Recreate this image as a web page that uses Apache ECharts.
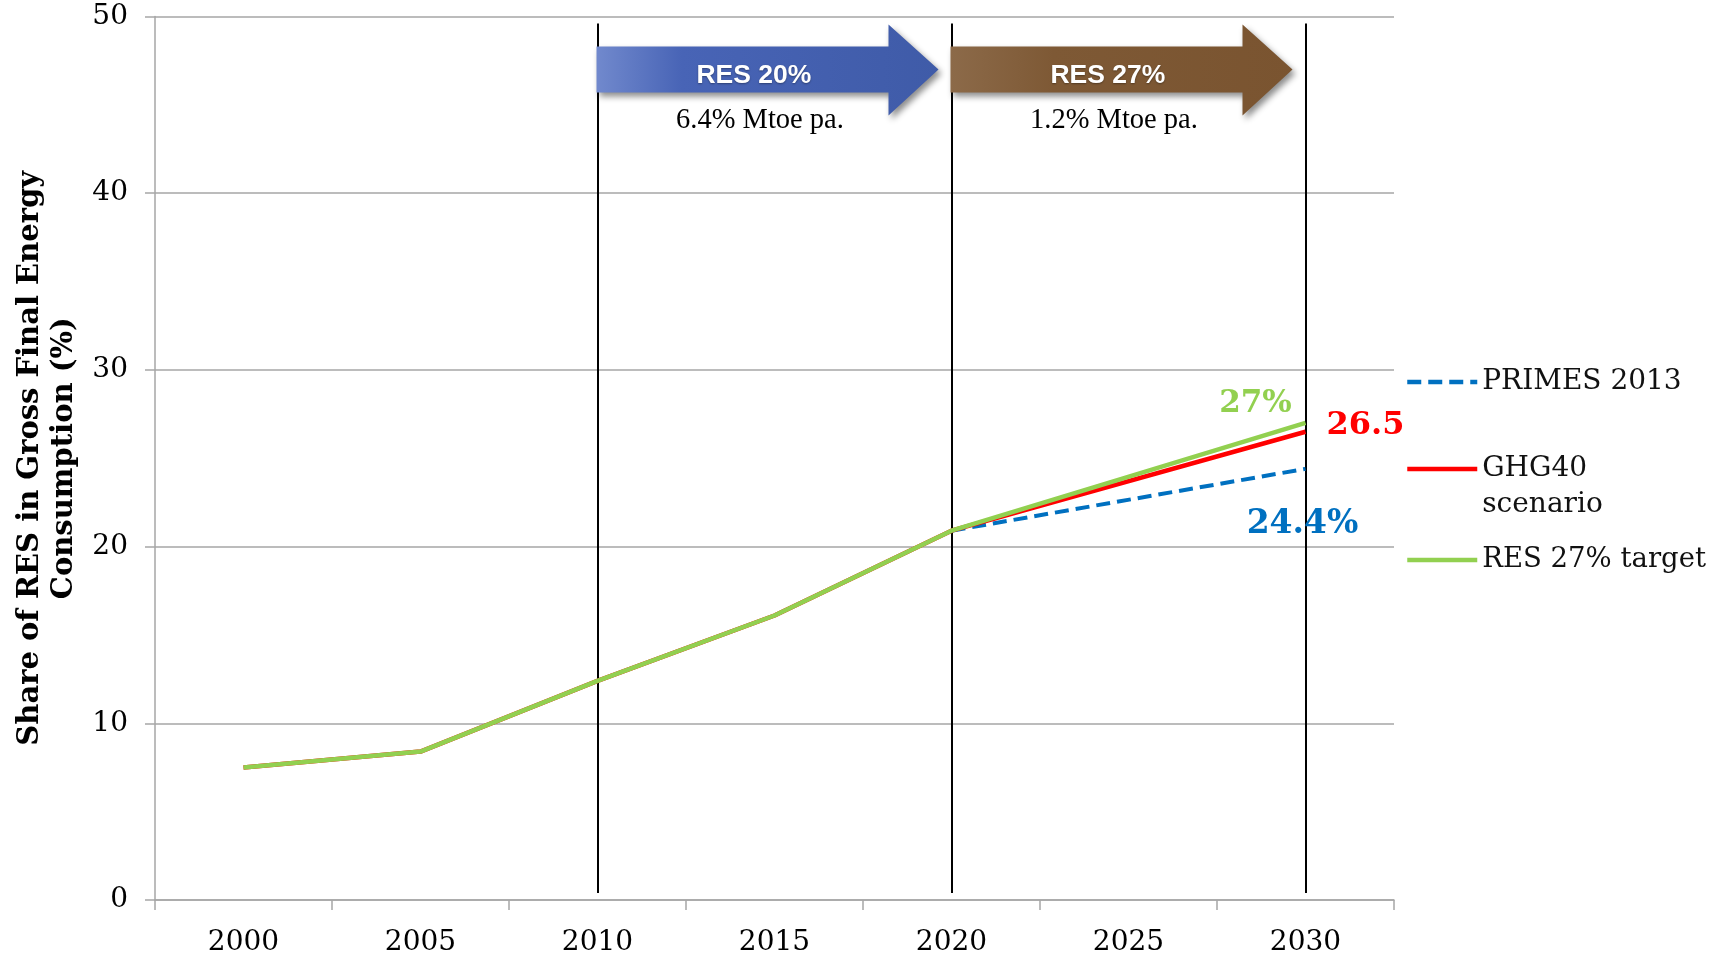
<!DOCTYPE html>
<html>
<head>
<meta charset="utf-8">
<script src="https://cdn.jsdelivr.net/npm/echarts@6/dist/echarts.min.js"></script>
<style>
html,body{margin:0;padding:0;background:#fff;}
#main{width:1724px;height:957px;}
</style>
</head>
<body>
<div id="main"></div>
<script>
// ---- data ----
const categories = ['2000', '2005', '2010', '2015', '2020', '2025', '2030'];
const primes2013 = [null, null, null, null, 20.9, null, 24.4];
const ghg40 = [7.5, 8.4, 12.4, 16.1, 20.9, null, 26.5];
const res27 = [7.5, 8.4, 12.4, 16.1, 20.9, null, 27.0];
const seriesNames = ['PRIMES 2013', 'GHG40 scenario', 'RES 27% target'];
const endLabels = ['24.4%', '26.5', '27%'];
const periodYears = ['2010', '2020', '2030'];
const arrowTitles = ['RES 20%', 'RES 27%'];
const arrowNotes = ['6.4% Mtoe pa.', '1.2% Mtoe pa.'];
const yTicks = { min: 0, max: 50, interval: 10 };

// ---- style ----
const SERIF = '"DejaVu Serif", Georgia, serif';
const TIMES = '"Liberation Serif", "Times New Roman", serif';
const SANS = '"Liberation Sans", Arial, sans-serif';
const gray = '#a6a6a6';

const chart = echarts.init(document.getElementById('main'), null, { renderer: 'canvas' });

const vLines = periodYears.map(y => [
  { coord: [y, 49.6] },
  { coord: [y, 0.4] }
]);

const legendBase = {
  orient: 'vertical', padding: 0, itemWidth: 70, itemHeight: 14, itemGap: 0,
  selectedMode: false,
  itemStyle: { opacity: 0 },
  lineStyle: { width: 4.5 },
  textStyle: { fontFamily: SERIF, fontSize: 28, color: '#111', lineHeight: 36 }
};

const option = {
  animation: false,
  backgroundColor: '#ffffff',
  grid: { left: 155, right: 330, top: 16.5, bottom: 57 },
  xAxis: {
    type: 'category',
    data: categories,
    boundaryGap: true,
    axisLine: { show: true, lineStyle: { color: gray, width: 1.5 } },
    axisTick: { show: true, interval: 0, length: 10, lineStyle: { color: gray, width: 1.5 } },
    axisLabel: { color: '#000', fontFamily: SERIF, fontSize: 28, margin: 29 },
    splitLine: { show: false }
  },
  yAxis: {
    type: 'value',
    min: yTicks.min, max: yTicks.max, interval: yTicks.interval,
    name: 'Share of RES in Gross Final Energy\nConsumption (%)',
    nameLocation: 'middle',
    nameRotate: 90,
    nameGap: 74,
    nameTextStyle: { fontFamily: SERIF, fontWeight: 'bold', fontSize: 29, lineHeight: 34, color: '#000' },
    axisLine: { show: true, lineStyle: { color: gray, width: 1.5 } },
    axisTick: { show: true, length: 10, lineStyle: { color: gray, width: 1.5 } },
    axisLabel: { color: '#000', fontFamily: SERIF, fontSize: 28, margin: 27 },
    splitLine: { show: true, lineStyle: { color: gray, width: 1.5 } }
  },
  legend: [
    Object.assign({}, legendBase, { data: [seriesNames[0]], left: 1405, top: 364 }),
    Object.assign({}, legendBase, {
      data: [seriesNames[1]], left: 1405, top: 455,
      formatter: () => '{a|GHG40}\n{a|scenario}',
      textStyle: {
        fontFamily: SERIF, fontSize: 28, color: '#111', padding: [36, 0, 0, 0],
        rich: { a: { fontFamily: SERIF, fontSize: 28, color: '#111', lineHeight: 36 } }
      }
    }),
    Object.assign({}, legendBase, { data: [seriesNames[2]], left: 1405, top: 542,
      textStyle: { fontFamily: SERIF, fontSize: 27.5, color: '#111', lineHeight: 36 } })
  ],
  series: [
    {
      name: seriesNames[0], type: 'line', data: primes2013, connectNulls: true,
      symbol: 'none', color: '#0070C0', z: 2,
      lineStyle: { color: '#0070C0', width: 4, type: [14, 7] },
      endLabel: { show: true, formatter: () => endLabels[0], color: '#0070C0',
        fontFamily: SERIF, fontWeight: 'bold', fontSize: 33, distance: 0,
        align: 'center', verticalAlign: 'middle', offset: [-3, 56] }
    },
    {
      name: seriesNames[1], type: 'line', data: ghg40, connectNulls: true,
      symbol: 'none', color: '#FF0000', z: 3,
      lineStyle: { color: '#FF0000', width: 4.5 },
      endLabel: { show: true, formatter: () => endLabels[1], color: '#FF0000',
        fontFamily: SERIF, fontWeight: 'bold', fontSize: 32, distance: 0,
        align: 'center', verticalAlign: 'middle', offset: [60, -6] }
    },
    {
      name: seriesNames[2], type: 'line', data: res27, connectNulls: true,
      symbol: 'none', color: '#92D050', z: 4,
      lineStyle: { color: '#92D050', width: 4.5 },
      endLabel: { show: true, formatter: () => endLabels[2], color: '#92D050',
        fontFamily: SERIF, fontWeight: 'bold', fontSize: 31, distance: 0,
        align: 'center', verticalAlign: 'middle', offset: [-50, -19] },
      markLine: {
        silent: true, symbol: ['none', 'none'], label: { show: false },
        lineStyle: { color: '#000', width: 2, type: 'solid' },
        z: 1,
        data: vLines
      }
    }
  ]
};
chart.setOption(option);

// ---- period arrows (positioned from axis coordinates) ----
const arrowColors = [
  [[0, '#7189cd'], [0.25, '#4864b6'], [1, '#3f5ba8']],
  [[0, '#8c6a49'], [0.3, '#7e5935'], [1, '#7a5430']]
];
const topY = chart.convertToPixel({ xAxisIndex: 0, yAxisIndex: 0 }, [0, yTicks.max])[1];
const graphics = [];
for (let i = 0; i < arrowTitles.length; i++) {
  const x0 = chart.convertToPixel({ xAxisIndex: 0, yAxisIndex: 0 }, [periodYears[i], 0])[0] - 1;
  const xn = chart.convertToPixel({ xAxisIndex: 0, yAxisIndex: 0 }, [periodYears[i + 1], 0])[0];
  const tip = xn - 13;
  const hb = tip - 50;
  const bt = topY + 30, bb = topY + 76, ht = topY + 8, hbt = topY + 99, tm = topY + 53;
  graphics.push({
    type: 'polygon',
    shape: { points: [[x0, bt], [hb, bt], [hb, ht], [tip, tm], [hb, hbt], [hb, bb], [x0, bb]] },
    style: {
      fill: new echarts.graphic.LinearGradient(0, 0, 1, 0,
        arrowColors[i].map(s => ({ offset: s[0], color: s[1] }))),
      shadowBlur: 6, shadowOffsetX: 3, shadowOffsetY: 4, shadowColor: 'rgba(0,0,0,0.45)'
    },
    z: 10
  });
  graphics.push({
    type: 'text',
    x: x0 + (tip - x0) * 0.46, y: topY + 59,
    style: { text: arrowTitles[i], fill: '#fff', font: 'bold 26.5px ' + SANS,
      align: 'center', verticalAlign: 'middle',
      textShadowBlur: 2, textShadowColor: 'rgba(0,0,0,0.35)', textShadowOffsetY: 1 },
    z: 11
  });
  graphics.push({
    type: 'text',
    x: x0 + (tip - x0) * 0.478, y: topY + 104,
    style: { text: arrowNotes[i], fill: '#000', font: '28.5px ' + TIMES,
      align: 'center', verticalAlign: 'middle' },
    z: 11
  });
}
chart.setOption({ graphic: graphics });
</script>
</body>
</html>
